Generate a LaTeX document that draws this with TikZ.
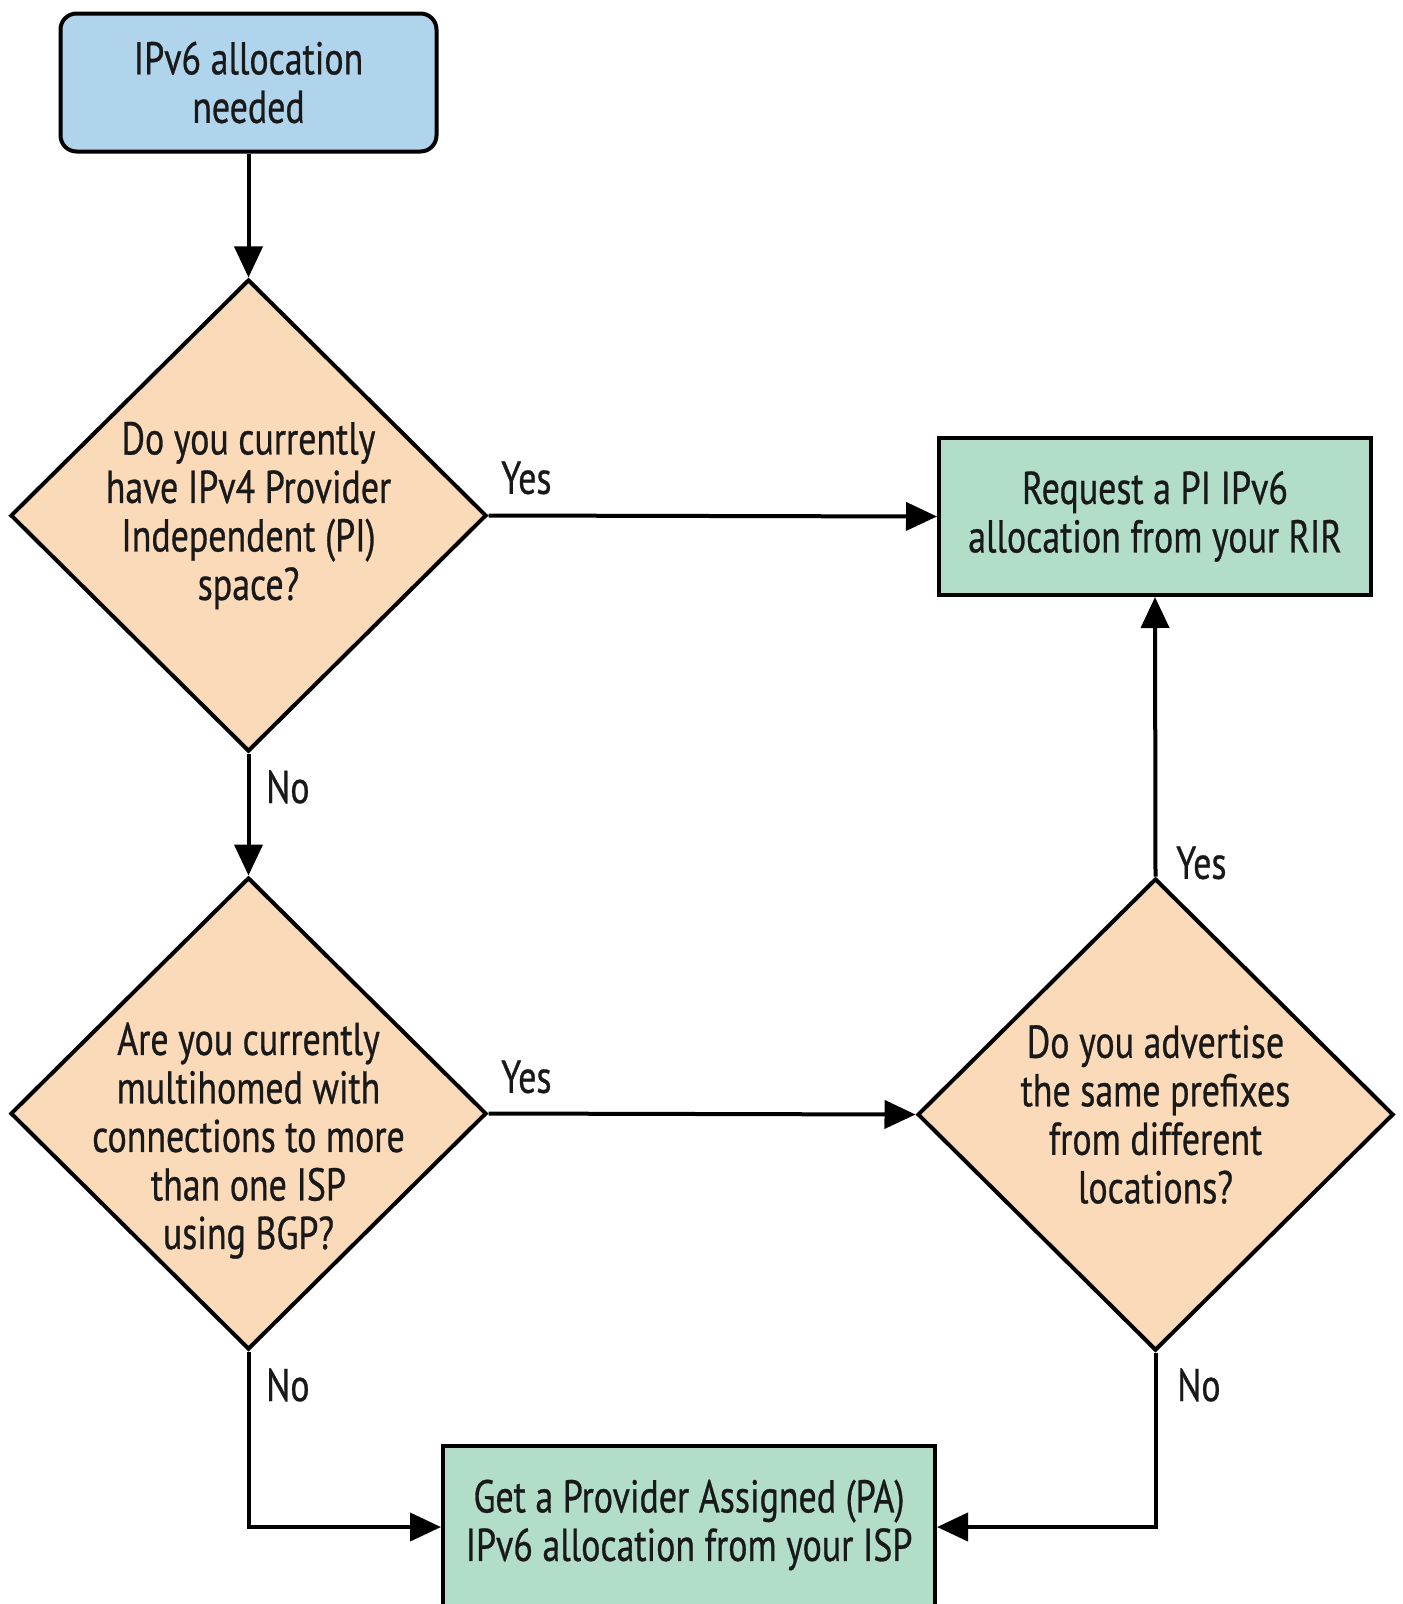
\documentclass[tikz,border=0pt]{standalone}
\usepackage{fontspec}
\setmainfont{PT Sans}[FakeStretch=0.78,FakeBold=0.6]
\usetikzlibrary{shapes.geometric,arrows.meta}
\definecolor{startblue}{HTML}{B0D4EB}
\definecolor{askpeach}{HTML}{FBDAB9}
\definecolor{endgreen}{HTML}{B2DEC9}
\tikzset{
  x=1pt, y=-1pt,
  every node/.style={font=\fontsize{46}{48.5}\selectfont, align=center, text=black!90},
  line/.style={line width=4pt, draw=black},
  flow/.style={line, -{Triangle[length=31pt,width=28pt]}},
  startbox/.style={line, fill=startblue, rounded corners=16pt, minimum width=376pt, minimum height=138pt, inner sep=0pt},
  endbox/.style={line, fill=endgreen, minimum width=430pt, minimum height=155pt, inner sep=0pt},
  decision/.style={line, fill=askpeach, diamond, minimum width=476pt, minimum height=472pt, inner sep=0pt},
  answer/.style={anchor=west, inner sep=0pt},
}
\begin{document}
\begin{tikzpicture}
\clip (0,0) rectangle (1403,1604);
\fill[white] (0,0) rectangle (1403,1604);

% start
\node[startbox] (start) at (248.5,82.5) {IPv6 allocation\\needed};

% first question
\node[decision] (d1) at (248.5,515.5) {};
\node (d1t) at (d1) {Do you currently\\have IPv4 Provider\\Independent (PI)\\space?};

% second question
\node[decision] (d2) at (248.5,1113.5) {};
\node (d2t) at ([yshift=-27pt]d2.center) {Are you currently\\multihomed with\\connections to more\\than one ISP\\using BGP?};

% third question
\node[decision] (d3) at (1155.5,1114.5) {};
\node (d3t) at (d3) {Do you advertise\\the same prefixes\\from different\\locations?};

% outcomes
\node[endbox, minimum width=432pt, minimum height=157pt] (pi) at (1155,516.5) {Request a PI IPv6\\allocation from your RIR};
\node[endbox, minimum width=492pt, minimum height=164pt] (pa) at (689,1528) {};
\node (pat) at (689,1525) {Get a Provider Assigned (PA)\\IPv6 allocation from your ISP};

% connectors
\coordinate (c1) at (248.5,1527);
\coordinate (c2) at (1155.5,1527);
\draw[flow] (start) -- (d1);
\draw[flow] (d1.east) -- (pi.west);
\draw[flow] (d1.south) -- (d2.north);
\draw[flow] (d2.east) -- (d3.west);
\draw[flow] (d3.north) -- (pi.south);
\draw[flow] (d2.south) -- (c1) -- (pa.west |- c1);
\draw[flow] (d3.south) -- (c2) -- (pa.east |- c2);

% branch labels
\node[answer] (y1) at (501,478) {Yes};
\node[answer] (y2) at (501,1077) {Yes};
\node[answer] (y3) at (1176,863) {Yes};
\node[answer] (n1) at (266,787) {No};
\node[answer] (n2) at (266,1385) {No};
\node[answer] (n3) at (1177,1385) {No};
\end{tikzpicture}
\end{document}
